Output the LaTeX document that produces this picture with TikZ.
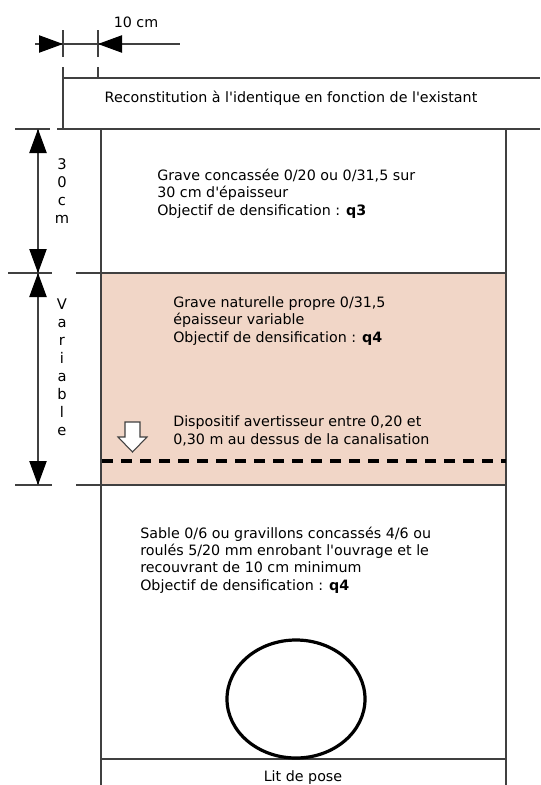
\documentclass[tikz,border=0pt]{standalone}
\usepackage{fontspec}
\setmainfont{DejaVu Sans}[Ligatures=TeXOff]
\usetikzlibrary{arrows.meta}
\definecolor{sable}{RGB}{241,214,199}
\definecolor{gristrait}{RGB}{64,64,64}
\begin{document}
\begin{tikzpicture}[x=0.75pt,y=-0.75pt,font=\fontsize{10.7}{13}\selectfont,
  trait/.style={draw=gristrait,line width=0.8pt},
  pointe/.style={-{Triangle[length=18pt,width=13pt,color=black]}},
  texte/.style={anchor=base west,align=left,inner sep=0pt},
  lettres/.style={anchor=base,align=center,inner sep=0pt,font=\fontsize{11}{13.4}\selectfont}]

\useasboundingbox (0,0) rectangle (540,785);

% Couches
\coordinate (hg) at (101,129);
\coordinate (hd) at (506,129);
\coordinate (bg) at (101,785);
\coordinate (bd) at (506,785);

\fill[sable] (101,273) rectangle (506,485);

\draw[trait] (hg) -- (bg);
\draw[trait] (hd) -- (bd);

\draw[trait] (63,78) -- (540,78);
\draw[trait] (63,67) -- (63,129);
\draw[trait] (15,129) -- (50,129);
\draw[trait] (57,129) -- (540,129);
\draw[trait] (8,273) -- (52,273);
\draw[trait] (76,273) -- (506,273);
\draw[trait] (15,485) -- (52,485);
\draw[trait] (76,485) -- (506,485);
\draw[trait] (101,759) -- (506,759);

% Cote 10 cm
\coordinate (c1) at (63,44);
\coordinate (c2) at (98,44);
\draw[trait] (63,30) -- (63,57);
\draw[trait] (98,30) -- (98,57);
\draw[trait] (98,67) -- (98,78);
\draw[trait] (35,44) -- (180,44);
\draw[trait,pointe] (36,44) -- (c1);
\draw[trait,pointe] (124,44) -- (c2);
\node[anchor=base] (dix) at (136,27) {10 cm};

% Cotes verticales
\coordinate (v1) at (38,129);
\coordinate (v2) at (38,273);
\coordinate (v3) at (38,485);
\draw[trait] (v1) -- (v3);
\draw[trait,pointe] (38,160) -- (v1);
\draw[trait,pointe] (38,245) -- (v2);
\draw[trait,pointe] (38,300) -- (v2);
\draw[trait,pointe] (38,460) -- (v3);
\node[lettres] (trente) at (62,223) {3\\0\\c\\m};
\node[lettres] (variable) at (62,435) {V\\a\\r\\i\\a\\b\\l\\e};

% Textes (ancre sur la derniere ligne)
\node[anchor=base] (existant) at (291,102)
  {Reconstitution à l'identique en fonction de l'existant};
\node[texte] (grave) at (157,215)
  {Grave concassée 0/20 ou 0/31,5 sur\\30 cm d'épaisseur\\Objectif de densification : \textbf{q3}};
\node[texte] (naturelle) at (173,342)
  {Grave naturelle propre 0/31,5\\épaisseur variable\\Objectif de densification : \textbf{q4}};
\node[texte] (dispositif) at (173,444)
  {Dispositif avertisseur entre 0,20 et\\0,30 m au dessus de la canalisation};
\node[texte] (sable) at (140,590)
  {Sable 0/6 ou gravillons concassés 4/6 ou\\roulés 5/20 mm enrobant l'ouvrage et le\\recouvrant de 10 cm minimum\\Objectif de densification : \textbf{q4}};
\node[anchor=base] (lit) at (303,781) {Lit de pose};

% Grillage avertisseur
\draw[gristrait,fill=white,line width=0.8pt]
  (125,422) -- (140,422) -- (140,437) -- (147,437) -- (132.5,452)
  -- (118,437) -- (125,437) -- cycle;
\draw[black,line width=2.3pt,dash pattern=on 8.25pt off 6pt] (102,461) -- (506,461);

% Canalisation
\draw[black,line width=2.4pt] (296,699) ellipse [x radius=69,y radius=59];

\end{tikzpicture}
\end{document}
